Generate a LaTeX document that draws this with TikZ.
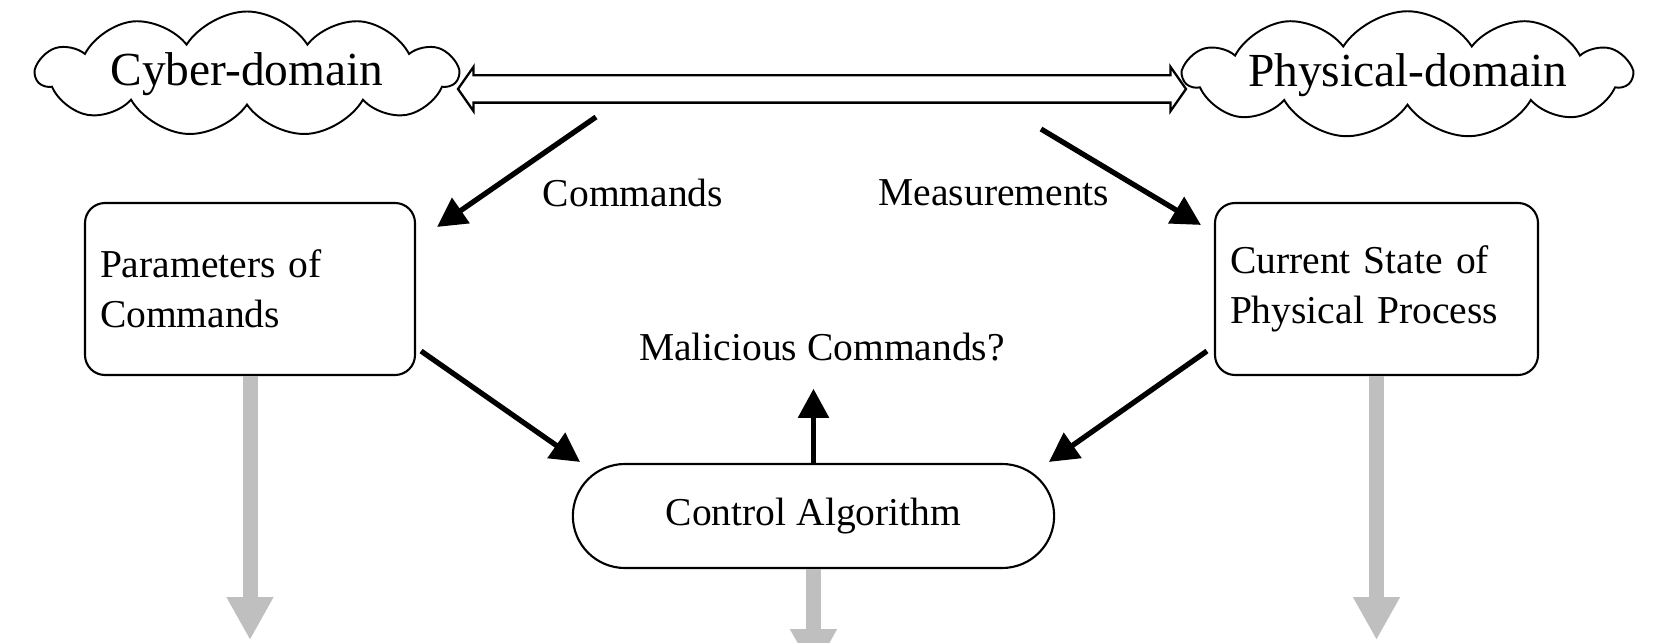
\documentclass[tikz,border=0pt]{standalone}
\usepackage{fontspec}
\setmainfont{Liberation Serif}
\usetikzlibrary{arrows.meta, positioning, calc, shapes.symbols, shapes.arrows, shapes.misc}
\tikzset{
  cloudbox/.style={cloud, cloud puffs=11, cloud puff arc=115, cloud ignores aspect, inner xsep=-0.5cm, inner ysep=0pt, draw, line width=1.1pt, minimum width=8.42cm, minimum height=2.5cm, font=\fontsize{27}{32}\selectfont},
  box/.style={draw, line width=1.2pt, rounded corners=0.4cm, fill=white, minimum height=3.44cm, text width=6cm, inner xsep=0.3cm, align=left, font=\fontsize{22.5}{28.5}\selectfont},
  pill/.style={draw, line width=1.2pt, rounded rectangle, fill=white, minimum width=9.86cm, minimum height=2.08cm, font=\fontsize{22.5}{27}\selectfont},
  dualarr/.style={double arrow, draw, line width=1.3pt, inner sep=0pt, text height=0.5cm, text depth=0pt, double arrow head extend=0.17cm, double arrow tip angle=110, minimum height=14.56cm},
  arr/.style={-{Triangle[length=0.58cm, width=0.6cm]}, line width=3pt},
  garr/.style={-{Triangle[length=0.86cm, width=0.88cm]}, line width=0.3cm, draw=black!25, fill=black!25},
  note/.style={font=\fontsize{22.5}{27}\selectfont},
}

\begin{document}
\begin{tikzpicture}
  \useasboundingbox (0,0) rectangle (33.22,12.84);
  \clip (0,0) rectangle (33.22,12.84);
  \coordinate (floor) at (0,0.04);

  % the two domains and the link between them
  \node[dualarr] (link) at (16.44,11.06) {};
  \node[cloudbox] (cyber) at (4.94,11.36) {Cyber-domain};
  \node[cloudbox, minimum width=8.94cm, minimum height=2.55cm] (phys) at (28.15,11.34) {Physical-domain};

  % controller side
  \node[box] (param) at (5.0,7.06) {Parameters of\\Commands};
  \node[box, text width=5.86cm] (state) at (27.53,7.06) {Current State of\\Physical Process};
  \node[pill] (ctrl) at (16.27,2.52) {Control Algorithm};

  \node[note] (cmd) at (12.66,8.98) {Commands};
  \node[note] (meas) at (19.88,8.98) {Measurements};
  \node[note, anchor=base] (mal) at (16.44,5.62) {Malicious Commands?};

  \draw[arr] ([shift={(-4.52,-0.56)}]link.center) -- ([shift={(0.42,-0.5)}]param.north east);
  \draw[arr] ([shift={(4.38,-0.8)}]link.center) -- ([shift={(-0.26,-0.46)}]state.north west);
  \draw[arr] ([shift={(0.1,0.5)}]param.south east) -- ([shift={(-4.67,0.02)}]ctrl.north);
  \draw[arr] ([shift={(-0.14,0.5)}]state.south west) -- ([shift={(4.71,0.02)}]ctrl.north);
  \draw[arr, shorten >=0.42cm] (ctrl.north) -- (ctrl.north |- mal.south);

  % outputs
  \draw[garr] (param.south) -- (param.south |- floor);
  \draw[garr] (ctrl.south) -- ++(0,-2.06);
  \draw[garr] (state.south) -- (state.south |- floor);
\end{tikzpicture}
\end{document}
